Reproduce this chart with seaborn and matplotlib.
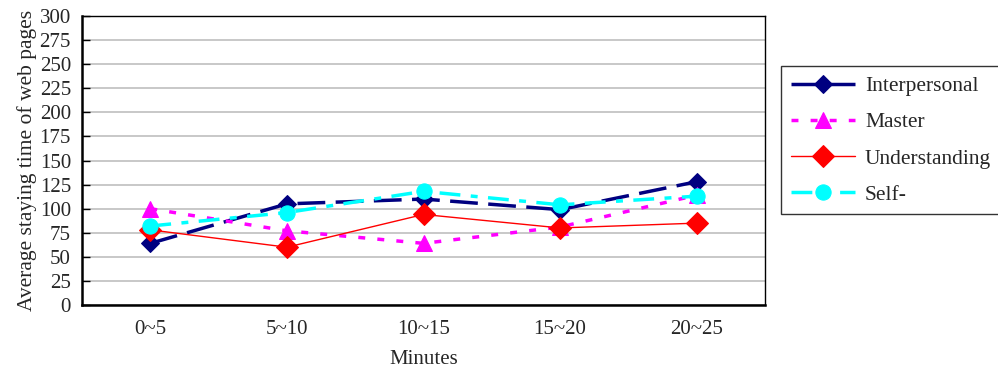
import numpy as np
import pandas as pd
import matplotlib
matplotlib.use('Agg')
import matplotlib.pyplot as plt
import seaborn as sns
from matplotlib.ticker import FixedLocator

# data
minutes = ['0~5', '5~10', '10~15', '15~20', '20~25']
interpersonal = [64, 105, 110, 99, 128]
master = [100, 77, 64, 81, 114]
understanding = [78, 60, 94, 80, 85]
self_ = [82, 96, 118, 104, 113]
series_names = ['Interpersonal', 'Master', 'Understanding', 'Self-']

sns.set_style('white')
plt.rcParams['font.family'] = ['Liberation Serif', 'DejaVu Serif']

df = pd.DataFrame({
    'Minutes': minutes * 4,
    'value': interpersonal + master + understanding + self_,
    'series': np.repeat(series_names, len(minutes)),
})

colors = {'Interpersonal': '#000080', 'Master': '#ff00ff',
          'Understanding': '#ff0000', 'Self-': '#00ffff'}
styles = {
    'Interpersonal': dict(ls=(0, (8, 3)), lw=2.5, marker='D', ms=9),
    'Master': dict(ls=(0, (2, 3.5)), lw=2.5, marker='^', ms=11),
    'Understanding': dict(ls='-', lw=1.0, marker='D', ms=11),
    'Self-': dict(ls=(0, (6, 3, 2, 3)), lw=2.5, marker='o', ms=11),
}

fig = plt.figure(figsize=(9.98, 3.73), dpi=100)
ax = fig.add_axes([0.0822, 0.1823, 0.6843, 0.7747])

for name in series_names:
    st = styles[name]
    sns.lineplot(data=df[df['series'] == name], x='Minutes', y='value',
                 color=colors[name], linestyle=st['ls'], linewidth=st['lw'],
                 marker=st['marker'], markersize=st['ms'],
                 markeredgecolor=colors[name], label=name, ax=ax, sort=False)

ax.set_xlim(-0.5, 4.5)
ax.set_ylim(0, 300)
ax.set_yticks(range(0, 301, 25))
ax.yaxis.grid(True, color='#c8c8c8', lw=1.4)
ax.set_axisbelow(True)

ax.set_xticks(range(len(minutes)))
ax.set_xticklabels(minutes)
ax.xaxis.set_minor_locator(FixedLocator([0.5, 1.5, 2.5, 3.5]))
ax.tick_params(axis='x', which='major', length=0, labelsize=15, pad=11)
ax.tick_params(axis='x', which='minor', direction='in', length=7, width=1, color='black')
ax.tick_params(axis='y', direction='in', length=6, width=1, color='black',
               labelsize=15, pad=8, left=True)

for side in ['left', 'bottom']:
    ax.spines[side].set_linewidth(1.8)
for side in ['top', 'right']:
    ax.spines[side].set_linewidth(1.0)
for sp in ax.spines.values():
    sp.set_color('black')

ax.set_xlabel('Minutes', fontsize=15, labelpad=8)
ax.set_ylabel('Average staying time of web pages', fontsize=15.5, labelpad=2)

ax.get_legend().remove()
handles, labels = ax.get_legend_handles_labels()
leg = fig.legend(handles, labels, loc='upper left', bbox_to_anchor=(0.7826, 0.822),
                 borderaxespad=0, fontsize=15.5, frameon=True, fancybox=False,
                 edgecolor='black', handlelength=3.0, labelspacing=0.75,
                 borderpad=0.45, handletextpad=0.45)
leg.get_frame().set_linewidth(1.0)

plt.savefig('out.png', dpi=100)
